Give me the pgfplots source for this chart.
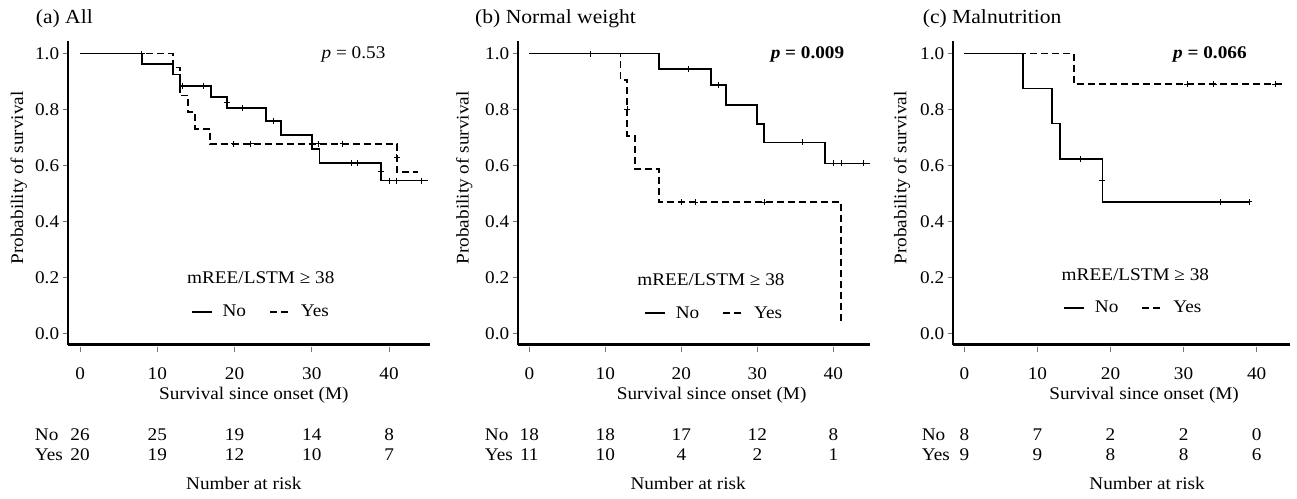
\documentclass[border=0pt]{standalone}
\usepackage{fontspec}
\setmainfont{Liberation Serif}[FakeStretch=1.08]
\usepackage{pgfplots}
\pgfplotsset{compat=1.18}
\newcommand\fs{\fontsize{17.8}{21}\selectfont}
\pgfplotsset{
  km/.style={
    scale only axis, anchor=south west, height=303pt,
    ymin=-0.04, ymax=1.043, clip=false,
    axis x line*=bottom, axis y line*=left,
    axis line style={-, line width=2.2pt},
    xtick={0,10,20,30,40}, ytick={0,0.2,0.4,0.6,0.8,1.0},
    tick align=outside, major tick length=5pt,
    xtick style={black!55, line width=0.9pt, yshift=-2.5pt},
    ytick style={black!55, line width=0.9pt},
    tick label style={font=\fs},
    /pgf/number format/assume math mode=true,
    xticklabel style={anchor=center, yshift=-24.5pt},
    yticklabel style={/pgf/number format/fixed, /pgf/number format/fixed zerofill, /pgf/number format/precision=1},
    ylabel={Probability of survival},
    every axis y label/.style={rotate=90, anchor=center, font=\fs},
    legend style={draw=none, fill=none, legend columns=2, font=\fs, anchor=center,
      /tikz/every odd column/.append style={column sep=8pt},
      /tikz/every even column/.append style={column sep=21pt}},
    legend cell align=left,
    legend image code/.code={\draw[##1] (0pt,0pt) -- (20pt,0pt);},
  },
  no/.style={black, solid, line width=1.9pt, const plot},
  yes/.style={black, dash pattern=on 7pt off 4pt, line width=1.9pt, const plot},
  cens/.style={black, only marks, mark=+, mark size=3pt, mark options={solid, line width=0.9pt}, forget plot},
  risk/.style={draw=none, mark=none, forget plot, nodes near coords, point meta=explicit symbolic,
    nodes near coords style={anchor=center, font=\fs}},
}
\begin{document}
\begin{tikzpicture}[font=\fs]
\path[use as bounding box] (0pt,0pt) rectangle (1297pt,498pt);

% (a) All
\begin{axis}[km, at={(67.7pt,153.5pt)}, width=362.3pt, xmin=-1.6, xmax=45.3,
  ylabel style={at={(axis description cs:-0.135,0.55)}},
  legend style={at={(axis cs:23.4,0.077)}}]
\addplot[no] coordinates {(0,1) (8,0.962) (12,0.925) (12.9,0.885) (17,0.846) (19,0.806) (24.1,0.760) (26,0.709) (30.05,0.658) (31,0.610) (39,0.546) (45,0.546)};
\addlegendentry{No}
\addplot[yes] coordinates {(0,1) (12,0.95) (12.9,0.85) (14,0.79) (14.9,0.73) (16.8,0.677) (41,0.578) (43.8,0.578)};
\addlegendentry{Yes}
\addplot[cens] coordinates {(8,1) (13.2,0.885) (16,0.885) (19,0.826) (21,0.806) (25,0.760) (35.1,0.610) (35.9,0.610) (39,0.578) (40,0.546) (41,0.546) (44.2,0.546)};
\addplot[cens] coordinates {(19.9,0.677) (22.1,0.677) (30.8,0.677) (34,0.677) (41,0.629)};
\addplot[risk] table[meta=n, row sep=\\] {x y n\\ 0 -0.363 26\\ 10 -0.363 25\\ 20 -0.363 19\\ 30 -0.363 14\\ 40 -0.363 8\\
  0 -0.435 20\\ 10 -0.435 19\\ 20 -0.435 12\\ 30 -0.435 10\\ 40 -0.435 7\\};
\node[anchor=west] at (axis cs:-6.3,-0.363) {No};
\node[anchor=west] at (axis cs:-6.3,-0.435) {Yes};
\node at (axis cs:22.5,-0.2205) {Survival since onset (M)};
\node at (axis cs:21.2,-0.535) {Number at risk};
\node at (axis cs:23.4,0.199) {mREE/LSTM ≥ 38};
\node at (axis cs:35.4,0.995) {\textit{p} = 0.53};
\end{axis}

% (b) Normal weight
\begin{axis}[km, at={(517.7pt,153.5pt)}, width=352.3pt, xmin=-1.53, xmax=44.83,
  ylabel style={at={(axis description cs:-0.152,0.55)}},
  legend style={at={(axis cs:24.3,0.0715)}}]
\addplot[no] coordinates {(0,1) (17.1,0.945) (23.9,0.886) (25.9,0.817) (29.9,0.748) (30.9,0.682) (38.9,0.607) (44.8,0.607)};
\addlegendentry{No}
\addplot[yes] coordinates {(0,1) (12,0.906) (12.9,0.706) (13.9,0.586) (17.1,0.469) (41,0.03)};
\addlegendentry{Yes}
\addplot[cens] coordinates {(8,1) (20.9,0.945) (24.9,0.886) (36,0.682) (40,0.607) (41.1,0.607) (44,0.607)};
\addplot[cens] coordinates {(12.9,0.8) (20,0.469) (21.8,0.469) (31,0.469)};
\addplot[risk] table[meta=n, row sep=\\] {x y n\\ 0 -0.363 18\\ 10 -0.363 18\\ 20 -0.363 17\\ 30 -0.363 12\\ 40 -0.363 8\\
  0 -0.435 11\\ 10 -0.435 10\\ 20 -0.435 4\\ 30 -0.435 2\\ 40 -0.435 1\\};
\node[anchor=west] at (axis cs:-6.3,-0.363) {No};
\node[anchor=west] at (axis cs:-6.3,-0.435) {Yes};
\node at (axis cs:24,-0.2205) {Survival since onset (M)};
\node at (axis cs:20.9,-0.535) {Number at risk};
\node at (axis cs:23.9,0.19) {mREE/LSTM ≥ 38};
\node at (axis cs:36.6,0.995) {\textbf{\textit{p} = 0.009}};
\end{axis}

% (c) Malnutrition
\begin{axis}[km, at={(952.7pt,153.5pt)}, width=337.3pt, xmin=-1.59, xmax=44.56,
  ylabel style={at={(axis description cs:-0.150,0.55)}},
  legend style={at={(axis cs:23.1,0.0915)}}]
\addplot[no] coordinates {(0,1) (8.05,0.875) (12,0.75) (13.1,0.623) (18.9,0.47) (39,0.47)};
\addlegendentry{No}
\addplot[yes] coordinates {(0,1) (15.05,0.89) (43.9,0.89)};
\addlegendentry{Yes}
\addplot[cens] coordinates {(15.9,0.623) (18.9,0.548) (35,0.47) (39,0.47)};
\addplot[cens] coordinates {(30.5,0.89) (34.1,0.89) (42.5,0.89)};
\addplot[risk] table[meta=n, row sep=\\] {x y n\\ 0 -0.363 8\\ 10 -0.363 7\\ 20 -0.363 2\\ 30 -0.363 2\\ 40 -0.363 0\\
  0 -0.435 9\\ 10 -0.435 9\\ 20 -0.435 8\\ 30 -0.435 8\\ 40 -0.435 6\\};
\node[anchor=west] at (axis cs:-6.3,-0.363) {No};
\node[anchor=west] at (axis cs:-6.3,-0.435) {Yes};
\node at (axis cs:24.6,-0.2205) {Survival since onset (M)};
\node at (axis cs:25,-0.535) {Number at risk};
\node at (axis cs:23.4,0.208) {mREE/LSTM ≥ 38};
\node at (axis cs:33.6,0.995) {\textbf{\textit{p} = 0.066}};
\end{axis}

\node[anchor=west, font=\fontsize{20}{24}\selectfont] at (32.3pt,479.5pt) {(a) All};
\node[anchor=west, font=\fontsize{20}{24}\selectfont] at (471.7pt,479.5pt) {(b) Normal weight};
\node[anchor=west, font=\fontsize{20}{24}\selectfont] at (919.3pt,479.5pt) {(c) Malnutrition};
\end{tikzpicture}
\end{document}
